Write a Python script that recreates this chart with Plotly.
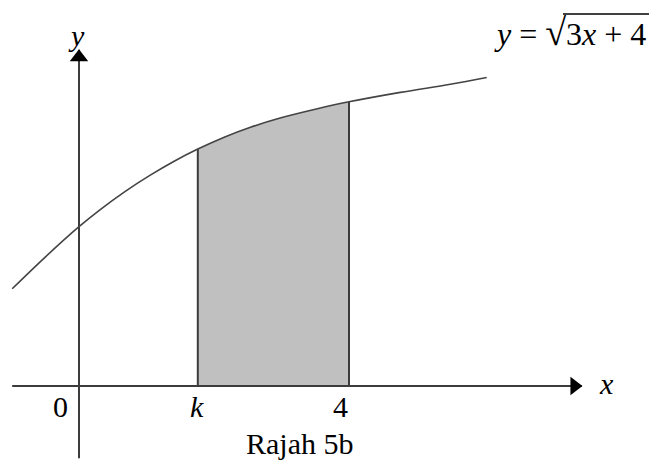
import plotly.graph_objects as go

# Curve (schematic sketch of y = sqrt(3x + 4))
curve_x = [-0.99, -0.50, 0.00, 0.31, 0.68, 1.05, 1.41, 1.76, 2.16, 2.53, 2.98, 3.50, 4.00, 4.76, 5.50, 6.04]
curve_y = [1.44, 1.91, 2.36, 2.61, 2.88, 3.12, 3.33, 3.51, 3.69, 3.83, 3.97, 4.10, 4.21, 4.35, 4.47, 4.57]

k_value = 1.76
upper_limit = 4.0

x_axis_span = [-0.99, 7.45]
y_axis_span = [-1.07, 4.98]

tick_labels = ["0", "<i>k</i>", "4"]
tick_pos = [-0.27, 1.75, 3.88]

FONT = "Liberation Serif"
LINE = "#3c3c3c"

fig = go.Figure()

# shaded region between k and 4
sx_poly = [k_value] + [x for x in curve_x if k_value <= x <= upper_limit] + [upper_limit]
sy_poly = [0] + [y for x, y in zip(curve_x, curve_y) if k_value <= x <= upper_limit] + [0]
fig.add_trace(go.Scatter(x=sx_poly, y=sy_poly, fill="toself", fillcolor="#c0c0c0",
                         line=dict(width=0), mode="lines", hoverinfo="skip"))

# axes
fig.add_trace(go.Scatter(x=x_axis_span, y=[0, 0], mode="lines",
                         line=dict(color=LINE, width=2), hoverinfo="skip"))
fig.add_trace(go.Scatter(x=[0, 0], y=y_axis_span, mode="lines",
                         line=dict(color=LINE, width=2), hoverinfo="skip"))
# arrow heads
fig.add_trace(go.Scatter(x=[x_axis_span[1] - 0.11], y=[0], mode="markers",
                         marker=dict(symbol="triangle-right", size=16, color="black"), hoverinfo="skip"))
fig.add_trace(go.Scatter(x=[0], y=[y_axis_span[1] - 0.11], mode="markers",
                         marker=dict(symbol="triangle-up", size=16, color="black"), hoverinfo="skip"))

# vertical boundaries at k and 4
yk = curve_y[curve_x.index(k_value)]
y4 = curve_y[curve_x.index(upper_limit)]
fig.add_trace(go.Scatter(x=[k_value, k_value], y=[0, yk], mode="lines",
                         line=dict(color=LINE, width=2), hoverinfo="skip"))
fig.add_trace(go.Scatter(x=[upper_limit, upper_limit], y=[0, y4], mode="lines",
                         line=dict(color=LINE, width=2), hoverinfo="skip"))

# curve
fig.add_trace(go.Scatter(x=curve_x, y=curve_y, mode="lines", line_shape="spline",
                         line=dict(color="#444444", width=1.6), hoverinfo="skip"))

# labels
for t, xp in zip(tick_labels, tick_pos):
    fig.add_annotation(x=xp, y=-0.31, text=t, showarrow=False,
                       font=dict(family=FONT, size=30, color="black"))
fig.add_annotation(x=-0.03, y=5.20, text="<i>y</i>", showarrow=False,
                   font=dict(family=FONT, size=30, color="black"))
fig.add_annotation(x=7.81, y=0.04, text="<i>x</i>", showarrow=False,
                   font=dict(family=FONT, size=30, color="black"))
fig.add_annotation(x=3.27, y=-0.85, text="Rajah 5b", showarrow=False,
                   font=dict(family=FONT, size=30, color="black"))
fig.add_annotation(x=648 / 652, y=1 - 32 / 460, xref="paper", yref="paper",
                   xanchor="right", yanchor="middle",
                   text="<i>y</i> = <span style='font-size:38px'>√</span>3<i>x</i> + 4",
                   showarrow=False,
                   font=dict(family=FONT, size=32, color="black"))
# radical vinculum
fig.add_shape(type="line", xref="paper", yref="paper",
              x0=563 / 652, x1=649 / 652, y0=1 - 14 / 460, y1=1 - 14 / 460,
              line=dict(color="black", width=1.5))

fig.update_layout(width=652, height=460, margin=dict(l=0, r=0, t=0, b=0),
                  paper_bgcolor="white", plot_bgcolor="white", showlegend=False,
                  xaxis=dict(range=[-79 / 67.5, 573 / 67.5], visible=False, fixedrange=True),
                  yaxis=dict(range=[-74 / 67.5, 386 / 67.5], visible=False, fixedrange=True))

fig.write_html("out.html", config={"displayModeBar": False},
               post_script="document.body.style.margin='0';document.body.style.padding='0';")
